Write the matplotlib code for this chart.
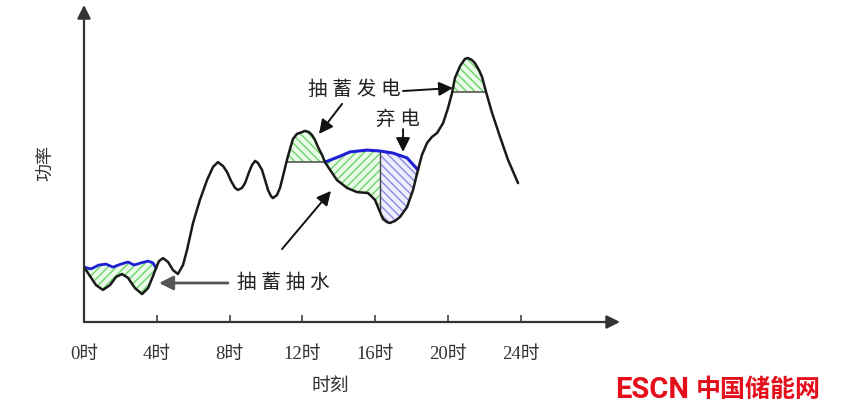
import numpy as np
import matplotlib.pyplot as plt

plt.rcParams['font.family'] = ['Liberation Serif', 'Noto Sans CJK SC']
plt.rcParams['hatch.linewidth'] = 1.0

# load curve (hour, power in arbitrary units)
hours = [0.00, 0.33, 0.66, 1.04, 1.43, 1.76, 2.09, 2.42, 2.80, 3.19, 3.52, 3.79, 3.96,
         4.12, 4.34, 4.62, 4.89, 5.16, 5.44, 5.66, 5.99, 6.37, 6.76, 7.09, 7.36, 7.64,
         7.86, 8.08, 8.30, 8.46, 8.68, 8.85, 9.07, 9.23, 9.40, 9.56, 9.78, 9.95, 10.11,
         10.27, 10.38, 10.60, 10.77, 10.99, 11.15, 11.32, 11.48, 11.70, 11.98, 12.14,
         12.36, 12.53, 12.69, 12.86, 13.08, 13.24, 13.52, 13.90, 14.45, 15.00, 15.60,
         15.99, 16.26, 16.43, 16.65, 16.81, 17.09, 17.36, 17.75, 18.08, 18.35, 18.57,
         18.85, 19.12, 19.40, 19.73, 20.00, 20.22, 20.38, 20.66, 20.93, 21.10, 21.32,
         21.48, 21.70, 21.87, 22.09, 22.42, 22.86, 23.30, 23.85]
power = [18.3, 15.3, 12.3, 10.7, 12.3, 15.0, 16.0, 14.7, 11.3, 9.3, 11.3, 15.3, 18.0,
         20.3, 21.3, 20.0, 17.3, 16.0, 19.0, 24.0, 33.0, 40.7, 47.3, 51.7, 53.3, 52.0,
         50.0, 47.0, 44.7, 44.0, 44.7, 46.3, 50.0, 52.3, 53.7, 53.0, 50.7, 47.3, 44.0,
         42.0, 41.3, 42.3, 44.7, 50.0, 54.0, 57.7, 61.0, 62.7, 63.3, 63.7,
         63.3, 62.3, 60.7, 58.3, 55.7, 53.3, 50.7, 47.3, 44.7, 43.3, 43.0,
         40.7, 36.7, 34.3, 33.3, 33.0, 33.7, 35.0, 38.3, 44.0, 50.7, 55.7,
         59.7, 61.7, 63.0, 66.3, 71.3, 76.3, 81.3, 85.3, 87.7, 88.0, 87.3,
         86.3, 84.0, 81.7, 76.7, 69.7, 61.7, 54.0, 46.3]

# blue lines (pumping level)
blue1_h = [0.00, 0.38, 0.82, 1.21, 1.59, 2.03, 2.42, 2.75, 3.13, 3.52, 3.79, 3.96]
blue1_p = [18.3, 17.7, 19.0, 19.3, 18.3, 19.3, 20.0, 19.0, 19.7, 20.3, 19.7, 18.0]
blue2_h = [13.24, 13.96, 14.62, 15.55, 16.26, 16.98, 17.75, 18.35]
blue2_p = [53.3, 55.0, 56.7, 57.3, 57.0, 56.3, 54.7, 50.7]

gen1_level = 53.3     # 抽蓄发电 level 1
gen1_span = (11.15, 13.24)
gen2_level = 76.7
gen2_span = (20.22, 22.09)
split_h = 16.26       # green / 弃电 boundary

tick_hours = [0, 4, 8, 12, 16, 20, 24]
tick_labels = ['0时', '4时', '8时', '12时', '16时', '20时', '24时']

GREEN_BG, GREEN_HATCH = '#eafbe8', '#6fd46f'
BLUE_BG, BLUE_HATCH = '#eeeefc', '#8a8ae0'

h = np.array(hours)
p = np.array(power)

fig = plt.figure(figsize=(8.45, 4.18), dpi=100)
ax = fig.add_axes([84 / 845, 96 / 418, 536 / 845, 317 / 418])
ax.set_xlim(0, 536 / 18.2)
ax.set_ylim(0, 317 / 3)
for s in ax.spines.values():
    s.set_visible(False)

# hatched areas
m = h <= blue1_h[-1]
ax.fill(np.r_[h[m], blue1_h[::-1]], np.r_[p[m], blue1_p[::-1]],
        facecolor=GREEN_BG, edgecolor=GREEN_HATCH, hatch='////', lw=0)

m = (h >= blue2_h[0]) & (h <= split_h)
bm = np.array(blue2_h) <= split_h
ax.fill(np.r_[h[m], np.array(blue2_h)[bm][::-1]], np.r_[p[m], np.array(blue2_p)[bm][::-1]],
        facecolor=GREEN_BG, edgecolor=GREEN_HATCH, hatch='////', lw=0)
m = (h >= split_h) & (h <= blue2_h[-1])
bm = np.array(blue2_h) >= split_h
ax.fill(np.r_[h[m], np.array(blue2_h)[bm][::-1]], np.r_[p[m], np.array(blue2_p)[bm][::-1]],
        facecolor=BLUE_BG, edgecolor=BLUE_HATCH, hatch='\\\\\\\\', lw=0)

for lvl, (a, b) in [(gen1_level, gen1_span), (gen2_level, gen2_span)]:
    m = (h >= a) & (h <= b)
    ax.fill_between(h[m], p[m], lvl, where=p[m] >= lvl, interpolate=True,
                    facecolor=GREEN_BG, edgecolor=GREEN_HATCH, hatch='\\\\\\\\', lw=0)
    ax.plot([a, b], [lvl, lvl], color='#555555', lw=1.2)

ax.plot([split_h, split_h], [36.7, 57.0], color='#444444', lw=1.0)

ax.plot(blue1_h, blue1_p, color='#1f1fd6', lw=2.0, solid_capstyle='round')
ax.plot(blue2_h, blue2_p, color='#1f1fd6', lw=2.2, solid_capstyle='round')
ax.plot(h, p, color='#1a1a1a', lw=1.8, solid_joinstyle='round', solid_capstyle='round')

# axes with arrows
ax_kw = dict(arrowstyle='-|>', color='#333333', lw=1.6, mutation_scale=20,
             shrinkA=0, shrinkB=0)
ax.annotate('', xy=(0, 1), xytext=(0, 0), xycoords='axes fraction', arrowprops=ax_kw)
ax.annotate('', xy=(1, 0), xytext=(0, 0), xycoords='axes fraction', arrowprops=ax_kw)

ax.set_yticks([])
ax.set_xticks(tick_hours)
ax.set_xticklabels(tick_labels, fontsize=13.5, color='#333333')
ax.tick_params(axis='x', direction='in', length=5, width=1.2, color='#444444', pad=17)

fig.text(330 / 845, 1 - 386 / 418, '时刻', ha='center', va='center', fontsize=13.5,
         color='#333333')
fig.text(47 / 845, 1 - 163 / 418, '功率', ha='center', va='center', fontsize=13,
         rotation=90, color='#333333')

# annotations
arr = dict(arrowstyle='-|>,head_length=0.6,head_width=0.3', color='#111111', lw=1.4,
           mutation_scale=14, shrinkA=0, shrinkB=0)
txt = dict(fontsize=14, ha='center', va='center', color='#222222')
ax.text(14.84, 77.3, '抽 蓄 发 电', **txt)
ax.annotate('', xy=(12.91, 62.7), xytext=(14.18, 72.7), arrowprops=arr)
ax.annotate('', xy=(20.27, 78.0), xytext=(17.53, 77.0), arrowprops=arr)
ax.text(17.25, 67.3, '弃 电', **txt)
ax.annotate('', xy=(17.53, 56.7), xytext=(17.53, 64.3), arrowprops=arr)
ax.text(10.93, 13.0, '抽 蓄 抽 水', **txt)
ax.annotate('', xy=(4.12, 13.0), xytext=(7.91, 13.0),
            arrowprops=dict(arr, color='#555555', lw=2.0))
ax.annotate('', xy=(13.57, 43.7), xytext=(10.88, 24.3), arrowprops=arr)

# logo
fig.text(615 / 845, 1 - 390 / 418, 'ESCN', ha='left', va='center', fontsize=21,
         fontweight='bold', color='#e50f1c', family=['Roboto', 'DejaVu Sans'])
fig.text(696 / 845, 1 - 390 / 418, '中国储能网', ha='left', va='center', fontsize=18,
         fontweight='bold', color='#e50f1c', family=['Noto Sans CJK SC'])

fig.savefig('out.png', dpi=100)
